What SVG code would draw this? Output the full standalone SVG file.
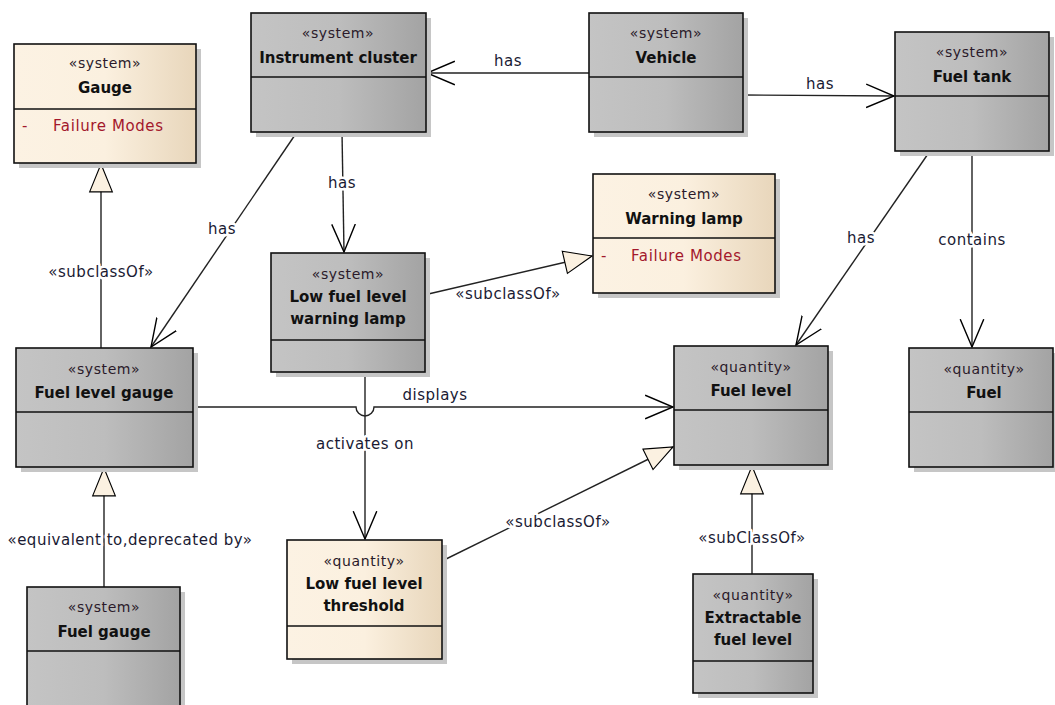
<svg xmlns="http://www.w3.org/2000/svg" width="1055" height="705" viewBox="0 0 1055 705">
<defs>
<linearGradient id="gGrey" x1="0" y1="0" x2="1" y2="0">
<stop offset="0" stop-color="#c4c4c4"/><stop offset="0.5" stop-color="#bdbdbd"/><stop offset="1" stop-color="#a3a3a3"/>
</linearGradient>
<linearGradient id="gCream" x1="0" y1="0" x2="1" y2="0">
<stop offset="0" stop-color="#fcf2e3"/><stop offset="0.5" stop-color="#fbf0df"/><stop offset="1" stop-color="#e8d6bb"/>
</linearGradient>
<marker id="open" markerUnits="userSpaceOnUse" markerWidth="30" markerHeight="30" viewBox="-26 -13 28 26" refX="0" refY="0" orient="auto">
<path d="M-26,-11 L0,0 L-26,11" fill="none" stroke="#000" stroke-width="1.3"/>
</marker>
<marker id="tri" markerUnits="userSpaceOnUse" markerWidth="32" markerHeight="32" viewBox="-29 -13 31 26" refX="0" refY="0" orient="auto">
<path d="M-27,-11 L0,0 L-27,11 Z" fill="#fbf1e1" stroke="#000" stroke-width="1.1"/>
</marker>
</defs>
<style>
.sh{fill:#c6c6c6}
.box{stroke:#111;stroke-width:1.6}
.grey{fill:url(#gGrey)}
.cream{fill:url(#gCream)}
.div{stroke:#111;stroke-width:1.4}
.st{font-family:"DejaVu Sans",sans-serif;font-size:14px;letter-spacing:0.6px;fill:#2a1a2a;text-anchor:middle}
.nm{font-family:"DejaVu Sans",sans-serif;font-size:15px;font-weight:bold;fill:#111;text-anchor:middle}
.fm{font-family:"DejaVu Sans",sans-serif;font-size:15px;letter-spacing:0.6px;fill:#a3182c}
.ln{fill:none;stroke:#222;stroke-width:1.4}
.lbl{font-family:"DejaVu Sans",sans-serif;font-size:15px;letter-spacing:0.5px;fill:#1a1a33;text-anchor:middle;stroke:#fff;stroke-width:5;paint-order:stroke;stroke-linejoin:round}
</style>

<g id="connectors">
<path class="ln" d="M589,73 L427,73" marker-end="url(#open)"/>
<path class="ln" d="M743,95 L894,96" marker-end="url(#open)"/>
<path class="ln" d="M342,132 L344,252" marker-end="url(#open)"/>
<path class="ln" d="M297,132 L151,347" marker-end="url(#open)"/>
<path class="ln" d="M424,295 L592,256" marker-end="url(#tri)"/>
<path class="ln" d="M101,348 L101,164" marker-end="url(#tri)"/>
<path class="ln" d="M193,407 L356,407 A9,9 0 0 0 374,407 L673,407" marker-end="url(#open)"/>
<path class="ln" d="M365,372 L365,539" marker-end="url(#open)"/>
<path class="ln" d="M442,561 L673,447" marker-end="url(#tri)"/>
<path class="ln" d="M752,574 L752,466" marker-end="url(#tri)"/>
<path class="ln" d="M104,587 L104,468" marker-end="url(#tri)"/>
<path class="ln" d="M930,151 L796,345" marker-end="url(#open)"/>
<path class="ln" d="M972,151 L972,347" marker-end="url(#open)"/>
<text class="lbl" x="508" y="66">has</text>
<text class="lbl" x="820" y="89">has</text>
<text class="lbl" x="342" y="188">has</text>
<text class="lbl" x="222" y="234">has</text>
<text class="lbl" x="101" y="277">«subclassOf»</text>
<text class="lbl" x="508" y="299">«subclassOf»</text>
<text class="lbl" x="435" y="400">displays</text>
<text class="lbl" x="365" y="449">activates on</text>
<text class="lbl" x="558" y="527">«subclassOf»</text>
<text class="lbl" x="752" y="543">«subClassOf»</text>
<text class="lbl" x="130" y="545">«equivalent to,deprecated by»</text>
<text class="lbl" x="861" y="243">has</text>
<text class="lbl" x="972" y="245">contains</text>
</g>

<g id="gauge">
<rect class="sh" x="19" y="49" width="182" height="119"/>
<rect class="box cream" x="14" y="44" width="182" height="119"/>
<line class="div" x1="14" y1="109" x2="196" y2="109"/>
<text class="st" x="105" y="68">«system»</text>
<text class="nm" x="105" y="93">Gauge</text>
<text class="fm" x="22" y="131">-</text>
<text class="fm" x="53" y="131">Failure Modes</text>
</g>

<g id="instrument-cluster">
<rect class="sh" x="256" y="18" width="175" height="119"/>
<rect class="box grey" x="251" y="13" width="175" height="119"/>
<line class="div" x1="251" y1="77" x2="426" y2="77"/>
<text class="st" x="338" y="38">«system»</text>
<text class="nm" x="338" y="63">Instrument cluster</text>
</g>

<g id="vehicle">
<rect class="sh" x="594" y="18" width="154" height="119"/>
<rect class="box grey" x="589" y="13" width="154" height="119"/>
<line class="div" x1="589" y1="77" x2="743" y2="77"/>
<text class="st" x="666" y="38">«system»</text>
<text class="nm" x="666" y="63">Vehicle</text>
</g>

<g id="fuel-tank">
<rect class="sh" x="900" y="37" width="154" height="119"/>
<rect class="box grey" x="895" y="32" width="154" height="119"/>
<line class="div" x1="895" y1="96" x2="1049" y2="96"/>
<text class="st" x="972" y="57">«system»</text>
<text class="nm" x="972" y="82">Fuel tank</text>
</g>

<g id="warning-lamp">
<rect class="sh" x="598" y="179" width="182" height="119"/>
<rect class="box cream" x="593" y="174" width="182" height="119"/>
<line class="div" x1="593" y1="238" x2="775" y2="238"/>
<text class="st" x="684" y="199">«system»</text>
<text class="nm" x="684" y="224">Warning lamp</text>
<text class="fm" x="601" y="261">-</text>
<text class="fm" x="631" y="261">Failure Modes</text>
</g>

<g id="low-fuel-level-warning-lamp">
<rect class="sh" x="276" y="258" width="154" height="119"/>
<rect class="box grey" x="271" y="253" width="154" height="119"/>
<line class="div" x1="271" y1="340" x2="425" y2="340"/>
<text class="st" x="348" y="279">«system»</text>
<text class="nm" x="348" y="302">Low fuel level</text>
<text class="nm" x="348" y="324">warning lamp</text>
</g>

<g id="fuel-level-gauge">
<rect class="sh" x="21" y="353" width="177" height="119"/>
<rect class="box grey" x="16" y="348" width="177" height="119"/>
<line class="div" x1="16" y1="412" x2="193" y2="412"/>
<text class="st" x="104" y="374">«system»</text>
<text class="nm" x="104" y="398">Fuel level gauge</text>
</g>

<g id="fuel-level">
<rect class="sh" x="679" y="351" width="154" height="119"/>
<rect class="box grey" x="674" y="346" width="154" height="119"/>
<line class="div" x1="674" y1="410" x2="828" y2="410"/>
<text class="st" x="751" y="372">«quantity»</text>
<text class="nm" x="751" y="396">Fuel level</text>
</g>

<g id="fuel">
<rect class="sh" x="914" y="353" width="144" height="119"/>
<rect class="box grey" x="909" y="348" width="144" height="119"/>
<line class="div" x1="909" y1="412" x2="1053" y2="412"/>
<text class="st" x="984" y="374">«quantity»</text>
<text class="nm" x="984" y="398">Fuel</text>
</g>

<g id="fuel-gauge">
<rect class="sh" x="32" y="592" width="153" height="120"/>
<rect class="box grey" x="27" y="587" width="153" height="125"/>
<line class="div" x1="27" y1="651" x2="180" y2="651"/>
<text class="st" x="104" y="612">«system»</text>
<text class="nm" x="104" y="637">Fuel gauge</text>
</g>

<g id="low-fuel-level-threshold">
<rect class="sh" x="292" y="545" width="155" height="119"/>
<rect class="box cream" x="287" y="540" width="155" height="119"/>
<line class="div" x1="287" y1="626" x2="442" y2="626"/>
<text class="st" x="364" y="566">«quantity»</text>
<text class="nm" x="364" y="589">Low fuel level</text>
<text class="nm" x="364" y="611">threshold</text>
</g>

<g id="extractable-fuel-level">
<rect class="sh" x="698" y="579" width="120" height="119"/>
<rect class="box grey" x="693" y="574" width="120" height="119"/>
<line class="div" x1="693" y1="661" x2="813" y2="661"/>
<text class="st" x="753" y="600">«quantity»</text>
<text class="nm" x="753" y="623">Extractable</text>
<text class="nm" x="753" y="645">fuel level</text>
</g>
</svg>
